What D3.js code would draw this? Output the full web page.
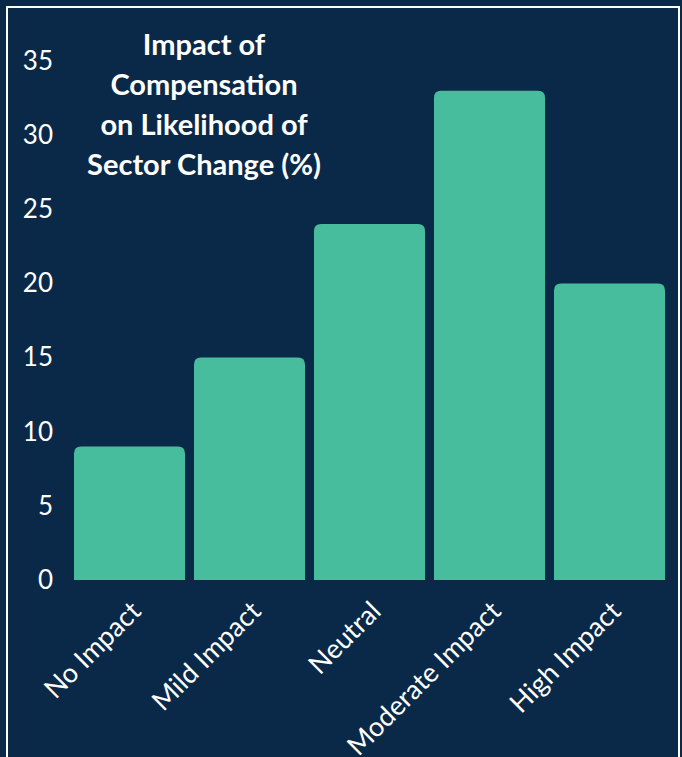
<!DOCTYPE html>
<html>
<head>
<meta charset="utf-8">
<script src="https://cdn.jsdelivr.net/npm/d3@7"></script>
<style>
    html, body { margin: 0; padding: 0; background: #0a2948; }
    svg { display: block; }
</style>
</head>
<body>
<div id="chart"></div>
<script>
// chart data
const categories = ["No Impact", "Mild Impact", "Neutral", "Moderate Impact", "High Impact"];
const values = [9, 15, 24, 33, 20];
const yTicks = [0, 5, 10, 15, 20, 25, 30, 35];
const titleLines = ["Impact of", "Compensation", "on Likelihood of", "Sector Change (%)"];

let width = 682, height = 757;

let svg = d3.select("#chart").append("svg")
    .attr("width", width)
    .attr("height", height);

svg.append("rect")
    .attr("width", width)
    .attr("height", height)
    .attr("fill", "#0a2948");

//white frame, open at the bottom
svg.append("rect")
    .attr("x", 7)
    .attr("y", 7)
    .attr("width", 672)
    .attr("height", 800)
    .attr("fill", "none")
    .attr("stroke", "#ffffff")
    .attr("stroke-width", 2);

let xScale = d3.scaleBand()
    .domain(categories)
    .range([65, 674])
    .padding(0.075);

let yScale = d3.scaleLinear()
    .domain([0, 35])
    .range([580, 61]);

//bars with rounded top corners
function barPath(x, y, w, h, r)
{
    r = Math.min(r, h, w / 2);
    return "M" + x + "," + (y + h) +
        "V" + (y + r) +
        "Q" + x + "," + y + " " + (x + r) + "," + y +
        "H" + (x + w - r) +
        "Q" + (x + w) + "," + y + " " + (x + w) + "," + (y + r) +
        "V" + (y + h) + "Z";
}

svg.selectAll("path.bar")
    .data(values)
    .enter().append("path")
    .attr("class", "bar")
    .attr("fill", "#48bd9e")
    .attr("d", (d, i) => barPath(xScale(categories[i]), yScale(d), xScale.bandwidth(), yScale(0) - yScale(d), 7));

//y axis, labels only
let yAxis = svg.append("g")
    .attr("transform", "translate(53,0)")
    .call(d3.axisLeft(yScale).tickValues(yTicks).tickSize(0).tickPadding(0));

yAxis.select(".domain").remove();
yAxis.selectAll("text")
    .attr("fill", "#ffffff")
    .style("font-family", "Lato")
    .style("font-size", "26px");

//x axis, rotated labels
let xAxis = svg.append("g")
    .attr("transform", "translate(0,580)")
    .call(d3.axisBottom(xScale).tickSize(0).tickPadding(0));

xAxis.select(".domain").remove();
xAxis.selectAll("text")
    .attr("fill", "#ffffff")
    .attr("y", 0)
    .attr("dy", 0)
    .style("font-family", "Lato")
    .style("font-size", "27px")
    .style("text-anchor", "end")
    .attr("transform", "translate(13,33) rotate(-45)");

//title
svg.append("text")
    .attr("x", 204)
    .attr("y", 55)
    .attr("text-anchor", "middle")
    .attr("fill", "#ffffff")
    .style("font-family", "Lato")
    .style("font-weight", "bold")
    .style("font-size", "29px")
    .selectAll("tspan")
    .data(titleLines)
    .enter().append("tspan")
    .attr("x", 204)
    .attr("dy", (d, i) => i == 0 ? 0 : 40)
    .text(d => d);
</script>
</body>
</html>
